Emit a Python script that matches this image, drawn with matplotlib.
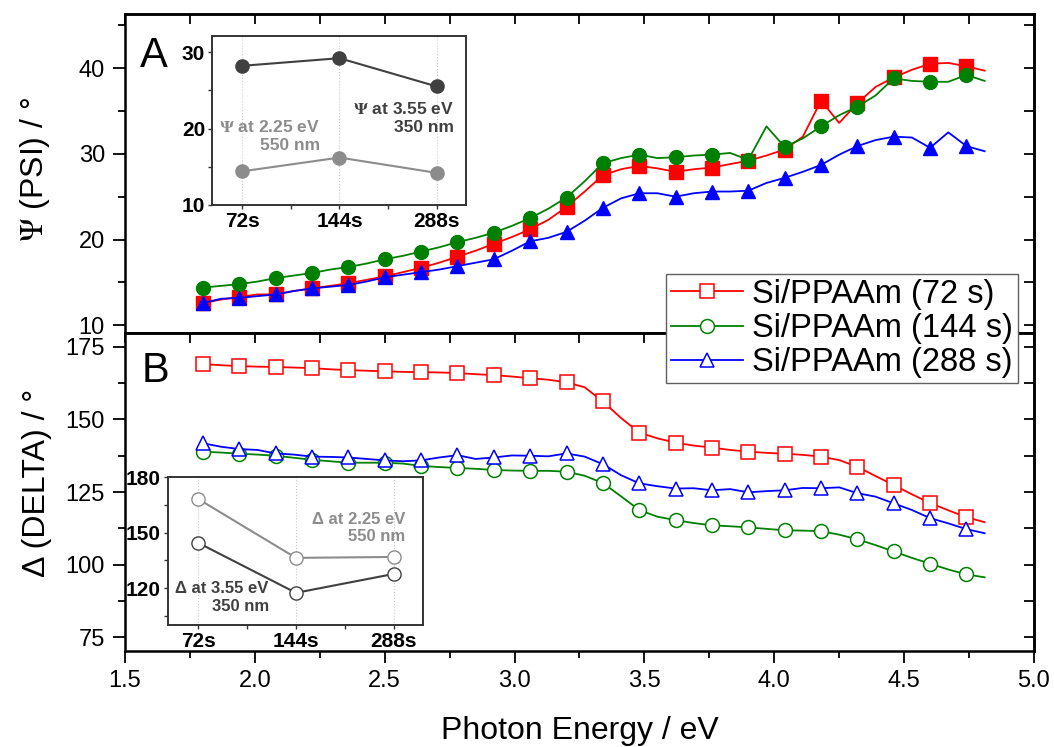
import matplotlib
matplotlib.use("Agg")
import matplotlib.pyplot as plt
from matplotlib.ticker import MultipleLocator

plt.rcParams['font.family'] = ['Liberation Sans', 'DejaVu Sans']
plt.rcParams['mathtext.fontset'] = 'stix'

# =============================================================================
# Data
# =============================================================================
energy = [1.80, 1.87, 1.94, 2.01, 2.08, 2.15, 2.22, 2.29, 2.36, 2.43, 2.50,
          2.57, 2.64, 2.71, 2.78, 2.85, 2.92, 2.99, 3.06, 3.13, 3.20, 3.27,
          3.34, 3.41, 3.48, 3.55, 3.62, 3.69, 3.76, 3.83, 3.90, 3.97, 4.04,
          4.11, 4.18, 4.25, 4.32, 4.39, 4.46, 4.53, 4.60, 4.67, 4.74, 4.81]

psi_72 = [12.6, 13.0, 13.3, 13.6, 13.6, 14.0, 14.3, 14.6, 14.9, 15.3, 15.7,
          16.2, 16.7, 17.3, 18.0, 18.7, 19.5, 20.3, 21.2, 22.3, 23.8, 25.6,
          27.5, 28.2, 28.6, 28.3, 27.9, 28.2, 28.4, 28.8, 29.2, 29.8, 30.5,
          32.0, 36.2, 33.6, 35.9, 37.8, 38.9, 39.8, 40.5, 40.6, 40.2, 39.7]
psi_144 = [14.4, 14.6, 14.8, 15.1, 15.5, 15.8, 16.1, 16.5, 16.8, 17.2, 17.7,
           18.1, 18.6, 19.1, 19.7, 20.2, 20.8, 21.6, 22.5, 23.6, 24.9, 26.8,
           28.9, 29.5, 29.9, 29.5, 29.6, 29.8, 29.9, 30.1, 29.3, 33.2, 30.8,
           31.8, 33.2, 34.5, 35.5, 36.8, 38.8, 38.5, 38.4, 38.4, 39.2, 38.5]
psi_288 = [12.6, 13.1, 13.2, 13.4, 13.6, 14.0, 14.3, 14.5, 14.7, 15.1, 15.6,
           15.9, 16.2, 16.5, 16.9, 17.3, 17.7, 18.7, 19.8, 20.2, 20.9, 22.2,
           23.7, 24.8, 25.4, 25.4, 25.0, 25.4, 25.6, 25.6, 25.7, 26.6, 27.2,
           27.9, 28.7, 29.9, 30.9, 31.6, 32.0, 31.9, 30.7, 32.5, 30.9, 30.3]

delta_72 = [169.1, 168.7, 168.4, 168.2, 168.1, 167.9, 167.7, 167.3, 167.0,
            166.8, 166.6, 166.4, 166.3, 166.2, 166.0, 165.6, 165.3, 164.8,
            164.2, 163.7, 162.8, 161.1, 156.2, 150.5, 145.5, 143.5, 142.0,
            141.0, 140.3, 139.5, 138.9, 138.5, 138.2, 137.8, 137.2, 136.0,
            133.7, 130.5, 127.4, 124.2, 121.2, 118.7, 116.3, 114.6]
delta_144 = [138.9, 138.6, 138.2, 137.9, 137.5, 136.8, 136.1, 135.6, 135.1,
             135.1, 135.1, 134.8, 134.0, 133.6, 133.3, 133.0, 132.6, 132.4,
             132.3, 132.3, 132.0, 130.6, 128.1, 123.5, 118.8, 116.5, 115.3,
             114.3, 113.5, 113.2, 112.8, 112.3, 111.8, 111.7, 111.5, 110.3,
             108.7, 106.7, 104.5, 102.3, 100.3, 98.3, 96.6, 95.6]
delta_288 = [141.8, 140.6, 139.8, 139.5, 138.3, 137.9, 137.2, 137.1, 136.9,
             136.4, 135.9, 135.6, 135.9, 136.9, 137.7, 136.4, 136.9, 137.6,
             137.5, 137.3, 138.3, 137.2, 134.6, 130.8, 128.0, 127.0, 126.2,
             126.3, 125.6, 126.0, 124.9, 125.3, 125.6, 126.4, 126.3, 126.6,
             124.6, 123.4, 121.1, 118.8, 116.0, 114.2, 112.2, 110.8]

series_labels = ['Si/PPAAm (72 s)', 'Si/PPAAm (144 s)', 'Si/PPAAm (288 s)']

# insets
inset_times = ['72s', '144s', '288s']
psi_355 = [28.2, 29.2, 25.5]
psi_225 = [14.4, 16.2, 14.2]
delta_225 = [168.1, 136.3, 136.8]
delta_355 = [144.4, 117.4, 127.6]

# =============================================================================
# Plotting
# =============================================================================
RED, GREEN, BLUE = '#ff0000', '#008000', '#0000ff'
DARK, LIGHT = '#404040', '#8c8c8c'

fig = plt.figure(figsize=(10.54, 7.47), dpi=100)
ax1 = fig.add_axes([0.1186, 0.5542, 0.8624, 0.4270])
ax2 = fig.add_axes([0.1186, 0.1285, 0.8624, 0.4257])

# ── Panel A : Psi ────────────────────────────────────────────────────────────
for y, col, mk in [(psi_72, RED, 's'), (psi_144, GREEN, 'o'),
                   (psi_288, BLUE, '^')]:
    ax1.plot(energy, y, color=col, lw=1.3, marker=mk, ms=10,
             mfc=col, mec=col, markevery=2)

# ── Panel B : Delta ──────────────────────────────────────────────────────────
handles = []
for y, col, mk, lbl in [(delta_72, RED, 's', series_labels[0]),
                        (delta_144, GREEN, 'o', series_labels[1]),
                        (delta_288, BLUE, '^', series_labels[2])]:
    h, = ax2.plot(energy, y, color=col, lw=1.3, marker=mk, ms=10,
                  mfc='white', mec=col, mew=1.1, markevery=2, label=lbl)
    handles.append(h)

for ax in (ax1, ax2):
    ax.set_xlim(1.5, 5.0)
    ax.xaxis.set_major_locator(MultipleLocator(0.5))
    ax.xaxis.set_minor_locator(MultipleLocator(0.25))
    for s in ax.spines.values():
        s.set_linewidth(1.8)
    ax.tick_params(which='major', direction='out', length=8.5, width=1.3,
                   labelsize=17, pad=5)
    ax.tick_params(which='minor', direction='out', length=5, width=1.3)
    ax.tick_params(axis='y', which='major', pad=6)
    # mirrored inward ticks on right and top
    sec_y = ax.secondary_yaxis('right')
    sec_x = ax.secondary_xaxis('top')
    for sec in (sec_y, sec_x):
        sec.tick_params(which='both', direction='in', length=7, width=1.3,
                        labelright=False, labeltop=False)
        for s in sec.spines.values():
            s.set_linewidth(1.8)
    sec_x.xaxis.set_major_locator(MultipleLocator(0.5))
    sec_x.xaxis.set_minor_locator(MultipleLocator(0.25))
    if ax is ax1:
        sec_y.yaxis.set_major_locator(MultipleLocator(10))
        sec_y.yaxis.set_minor_locator(MultipleLocator(5))
    else:
        sec_y.yaxis.set_major_locator(MultipleLocator(25))
        sec_y.yaxis.set_minor_locator(MultipleLocator(12.5))

ax1.set_ylim(9.1, 46.3)
ax1.yaxis.set_major_locator(MultipleLocator(10))
ax1.yaxis.set_minor_locator(MultipleLocator(5))
ax1.tick_params(axis='x', which='both', bottom=False, labelbottom=False)

ax2.set_ylim(70.2, 179.8)
ax2.yaxis.set_major_locator(MultipleLocator(25))
ax2.yaxis.set_minor_locator(MultipleLocator(12.5))

ax1.set_ylabel(r'$\Psi$ (PSI) / °', fontsize=23)
ax2.set_ylabel('Δ (DELTA) / °', fontsize=23)
ax1.yaxis.set_label_coords(-0.080, 0.514)
ax2.yaxis.set_label_coords(-0.080, 0.530)
ax2.set_xlabel('Photon Energy / eV', fontsize=23)
ax2.xaxis.set_label_coords(0.5, -0.276)
ax2.xaxis.label.set_verticalalignment('baseline')

ax1.text(0.0165, 0.834, 'A', transform=ax1.transAxes, fontsize=30,
         va='baseline', ha='left')
ax2.text(0.0187, 0.846, 'B', transform=ax2.transAxes, fontsize=30,
         va='baseline', ha='left')

leg = fig.legend(handles=handles, loc='upper left',
                 bbox_to_anchor=(666 / 1054, 1 - 274 / 747),
                 fontsize=23.5, frameon=True, fancybox=False, framealpha=1,
                 borderaxespad=0, borderpad=0.15, labelspacing=0.1,
                 handlelength=2.2, handletextpad=0.3)
leg.get_frame().set_edgecolor('#606060')
leg.get_frame().set_linewidth(1.0)


# ── Insets ───────────────────────────────────────────────────────────────────
def style_inset(ax, ylim, ymaj, ymin):
    ax.set_xlim(-0.31, 2.3)
    ax.set_ylim(*ylim)
    ax.set_xticks(range(len(inset_times)))
    ax.set_xticklabels(inset_times)
    ax.xaxis.set_minor_locator(MultipleLocator(0.5))
    ax.yaxis.set_major_locator(MultipleLocator(ymaj))
    ax.yaxis.set_minor_locator(MultipleLocator(ymin))
    ax.grid(axis='x', which='major', linestyle=':', color='#c8c8c8', lw=0.8)
    for s in ax.spines.values():
        s.set_linewidth(1.4)
        s.set_color('#333333')
    ax.tick_params(which='both', direction='out', length=3, width=1,
                   color='#333333', labelsize=15, pad=2)
    for lab in ax.get_xticklabels() + ax.get_yticklabels():
        lab.set_fontweight('bold')


axA = fig.add_axes([0.2011, 0.7256, 0.2410, 0.2262])
axA.plot(range(3), psi_355, color=DARK, lw=1.5, marker='o', ms=9.5)
axA.plot(range(3), psi_225, color=LIGHT, lw=1.5, marker='o', ms=9.5)
style_inset(axA, (10, 32.1), 10, 5)
axA.text(2.18, 21.4, r'$\mathbf{\Psi}$ at 3.55 eV' + '\n350 nm', ha='right',
         va='center', fontsize=12.5, fontweight='bold', color=DARK)
axA.text(0.80, 19.0, r'$\mathbf{\Psi}$ at 2.25 eV' + '\n550 nm', ha='right',
         va='center', fontsize=12.5, fontweight='bold', color=LIGHT)

axB = fig.add_axes([0.1594, 0.1633, 0.2419, 0.1981])
axB.plot(range(3), delta_225, color=LIGHT, lw=1.5, marker='o', ms=9.5,
         mfc='white', mec=LIGHT)
axB.plot(range(3), delta_355, color=DARK, lw=1.5, marker='o', ms=9.5,
         mfc='white', mec=DARK)
style_inset(axB, (100, 180), 30, 15)
axB.text(2.12, 152.4, 'Δ at 2.25 eV\n550 nm', ha='right', va='center',
         fontsize=12, fontweight='bold', color=LIGHT)
axB.text(0.72, 114.8, 'Δ at 3.55 eV\n350 nm', ha='right', va='center',
         fontsize=12, fontweight='bold', color=DARK)

fig.savefig('out.png', dpi=100)
